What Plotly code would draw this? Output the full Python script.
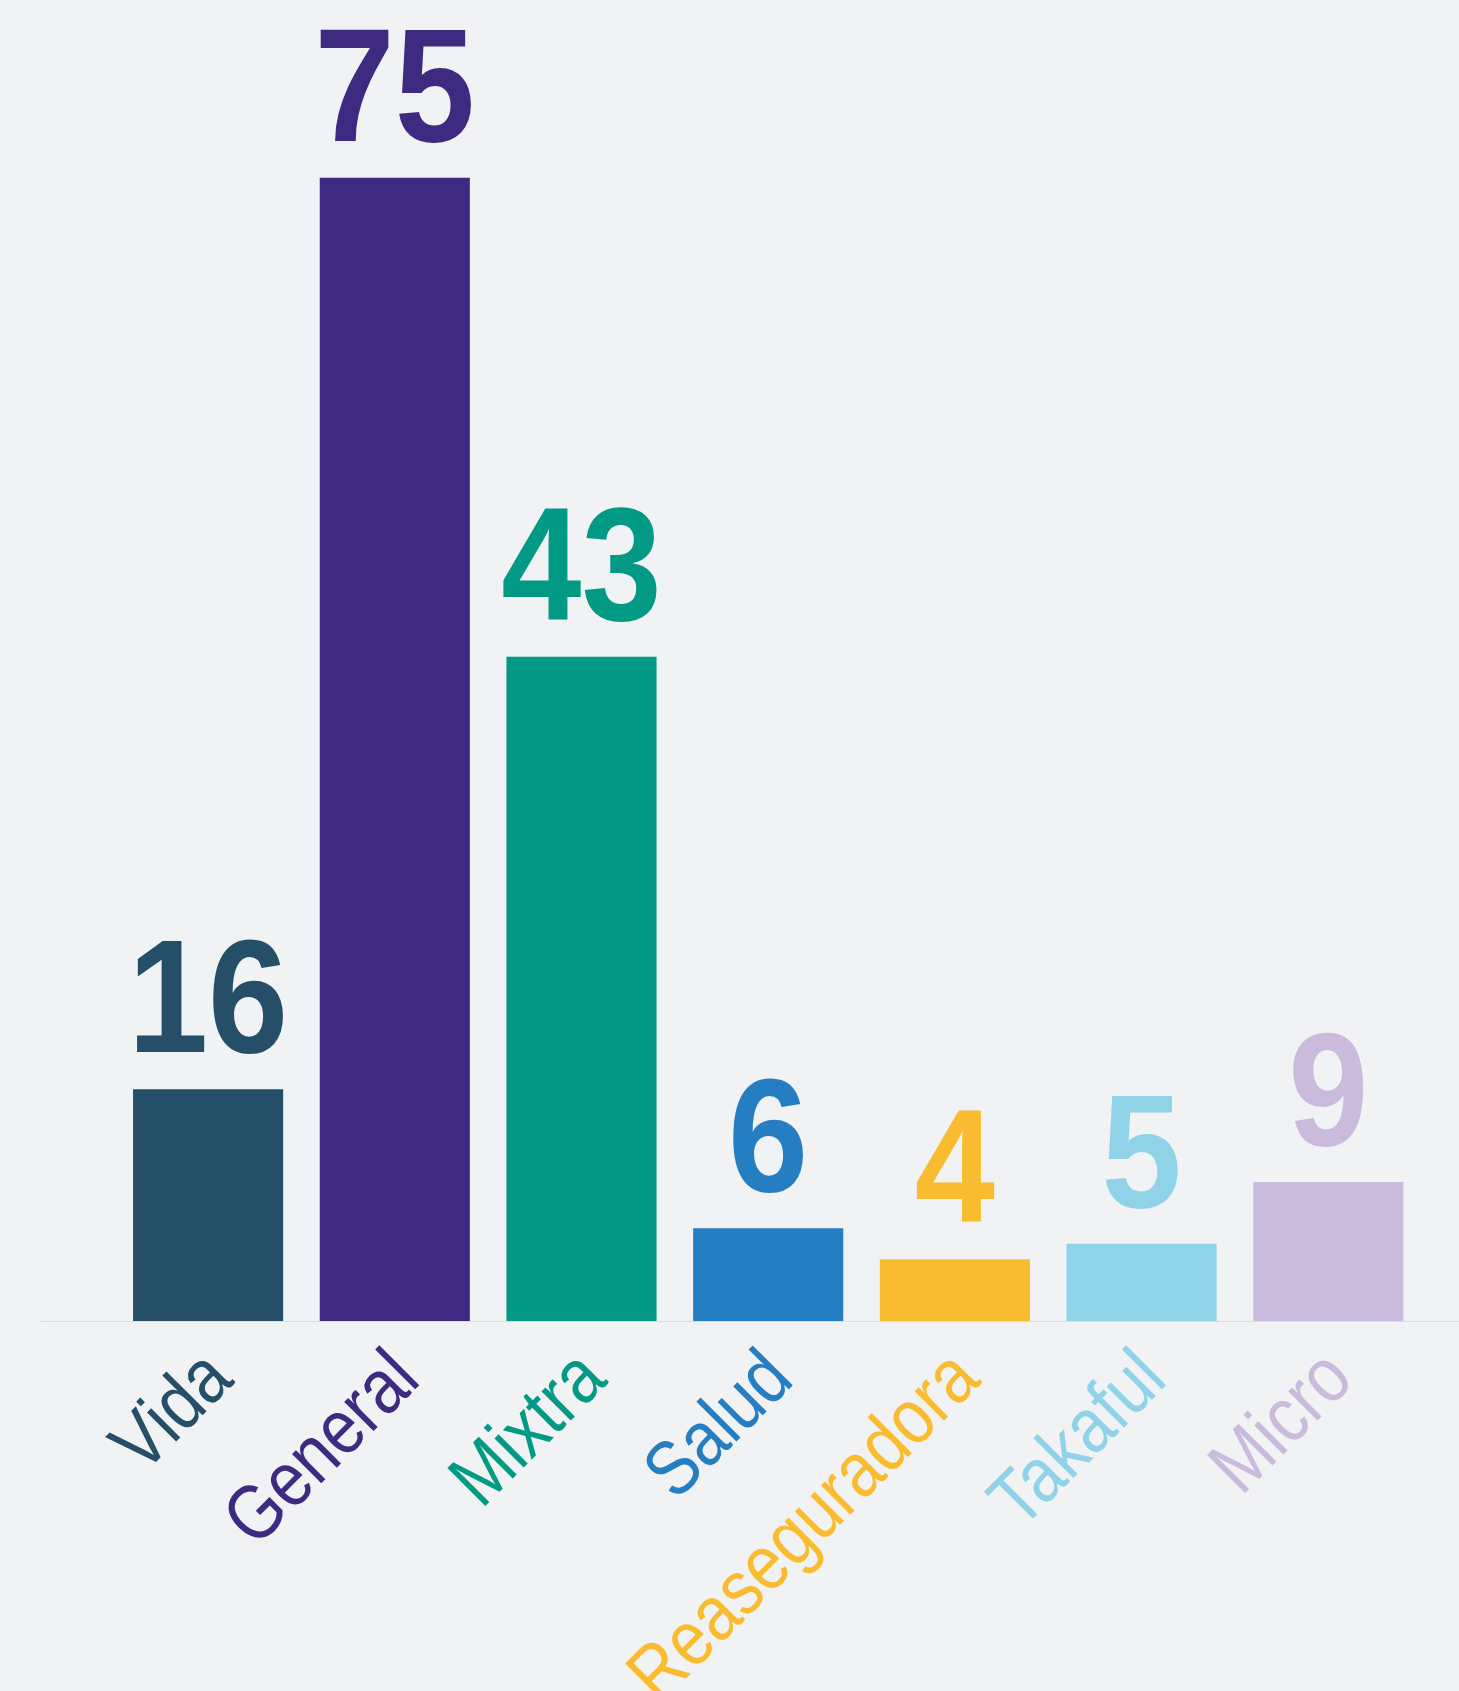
import plotly.graph_objects as go

# ---- data ----
categories = ["Vida", "General", "Mixtra", "Salud", "Reaseguradora", "Takaful", "Micro"]
bar_values = [15, 74, 43, 6, 4, 5, 9]          # bar heights as drawn
value_labels = ["16", "75", "43", "6", "4", "5", "9"]  # numbers printed above bars

# ---- styles ----
colors = ["#254F69", "#3E2A81", "#029A84", "#267EC2", "#F9BC30", "#90D2E8", "#CABADC"]
FONT = "Liberation Sans Narrow, Arial Narrow, Liberation Sans, Arial, sans-serif"
BG = "#F1F2F4"

tick_text = [f'<span style="color:{c}">{t}</span>' for t, c in zip(categories, colors)]

fig = go.Figure()
fig.add_trace(go.Bar(
    x=categories,
    y=bar_values,
    marker=dict(color=colors, line=dict(width=0)),
    text=value_labels,
    textposition="outside",
    constraintext="none",
    cliponaxis=False,
    textfont=dict(family=FONT, size=162, color=colors, weight="bold"),
    hoverinfo="skip",
))

fig.update_layout(
    width=1459,
    height=1691,
    paper_bgcolor=BG,
    plot_bgcolor=BG,
    margin=dict(l=41, r=0, t=0, b=370, autoexpand=False),
    bargap=0.196,
    showlegend=False,
    xaxis=dict(
        range=[-0.895, 6.70],
        tickmode="array",
        tickvals=categories,
        ticktext=tick_text,
        tickangle=-45,
        tickfont=dict(family=FONT, size=78),
        ticklabelstandoff=-22,
        ticklabelshift=0,
        showline=True,
        linecolor="#DCDDE0",
        linewidth=1,
        showgrid=False,
        zeroline=False,
        ticks="",
        automargin=False,
    ),
    yaxis=dict(
        range=[0, 85.5],
        visible=False,
        showgrid=False,
        zeroline=False,
        automargin=False,
    ),
)

# Narrow the glyphs (the reference uses a condensed face) and drop the page margin.
post_js = """
document.body.style.margin = '0';
var gd = document.getElementById('{plot_id}');
function squeeze(sel, f) {
  gd.querySelectorAll(sel).forEach(function (t) {
    var L = t.getComputedTextLength();
    t.setAttribute('textLength', (L * f).toFixed(2));
    t.setAttribute('lengthAdjust', 'spacingAndGlyphs');
  });
}
squeeze('text.bartext', 0.89);
squeeze('g.xtick > text', 0.85);
"""

fig.write_html("out.html", post_script=post_js, config={"displayModeBar": False})
